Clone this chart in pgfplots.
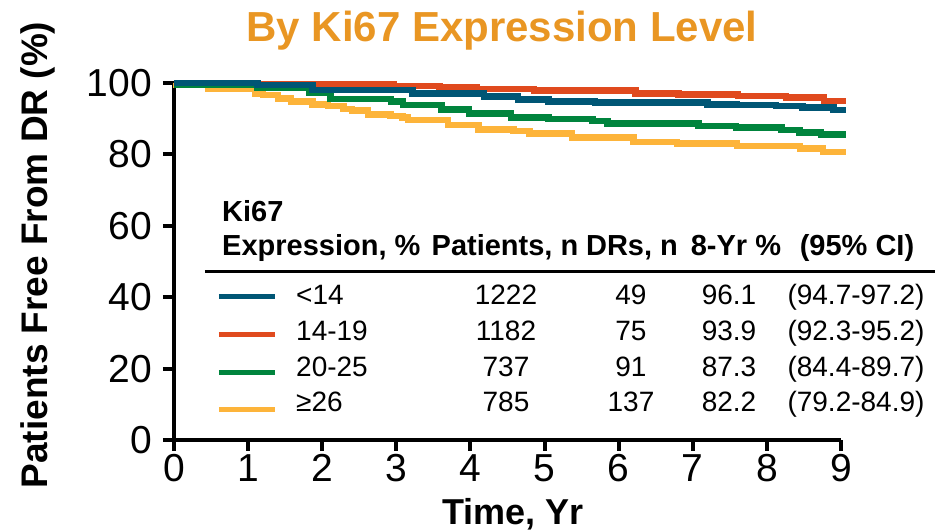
\documentclass[border=0pt]{standalone}
\usepackage{pgfplots}
\pgfplotsset{compat=1.18}
\usepackage{fontspec}
\setmainfont{Liberation Sans}
\definecolor{cblue}{RGB}{0,86,117}
\definecolor{cred}{RGB}{224,74,30}
\definecolor{cgreen}{RGB}{0,132,61}
\definecolor{cyellow}{RGB}{253,180,58}
\definecolor{ctitle}{RGB}{233,150,35}
\begin{document}
\begin{tikzpicture}
\useasboundingbox (-174pt,-92pt) rectangle (761pt,440pt);
\begin{axis}[
  at={(0pt,0pt)}, anchor=south west,
  width=667pt, height=357pt, scale only axis,
  xmin=0, xmax=9, ymin=0, ymax=100,
  axis x line*=bottom, axis y line*=left,
  axis line style={line width=4.5pt, black},
  tick align=outside, major tick length=11pt,
  tick style={line width=4pt, black},
  xtick={0,1,...,9}, ytick={0,20,...,100},
  /pgf/number format/assume math mode=true,
  ticklabel style={font=\fontsize{39}{39}\selectfont, inner sep=0pt},
  xticklabel style={anchor=north, yshift=-3pt},
  yticklabel style={anchor=east, xshift=-11pt},
  clip=false,
  const plot mark left,
  every axis plot/.append style={line width=6.5pt, line join=miter, mark=none},
]
\addplot[cyellow] coordinates {
(0,100) (0.03,99.6) (0.46,98.3) (1.10,97.0) (1.20,96.6) (1.40,95.6) (1.58,94.8)
(1.87,94.0) (2.08,93.6) (2.29,92.7) (2.40,92.3) (2.62,91.2) (2.92,90.7) (3.08,90.3)
(3.16,89.6) (3.70,88.3) (4.11,87.0) (4.58,86.6) (4.80,85.9) (5.37,84.8) (6.20,83.5)
(6.79,83.0) (7.60,82.3) (8.45,81.6) (8.76,80.7) (9.07,80.7)};
\addplot[cgreen] coordinates {
(0,100) (0.05,99.6) (1.12,98.6) (1.83,97.3) (2.11,95.5) (2.93,94.8) (3.09,93.8)
(3.61,92.6) (3.98,91.5) (4.55,90.4) (5.05,89.9) (5.65,89.3) (5.85,88.6) (7.08,88.0)
(7.58,87.5) (8.20,86.8) (8.44,86.1) (8.73,85.6) (9.07,85.6)};
\addplot[cred] coordinates {
(0,100) (1.12,99.7) (2.97,99.2) (3.58,98.7) (4.08,98.3) (4.86,97.9) (6.23,97.1)
(6.81,96.8) (7.61,96.3) (8.26,96.0) (8.77,95.0) (9.07,95.0)};
\addplot[cblue] coordinates {
(0,100) (1.13,99.4) (1.87,98.0) (3.22,97.0) (4.18,96.2) (4.64,95.4) (5.05,94.8)
(5.68,94.5) (7.20,94.0) (7.60,93.8) (8.12,93.6) (8.48,93.2) (8.90,92.5) (9.07,92.5)};
\end{axis}
% title and axis labels
\node[anchor=base, font=\fontsize{42}{42}\selectfont\bfseries, text=ctitle, inner sep=0pt] at (328pt,398pt) {By Ki67 Expression Level};
\node[anchor=base, rotate=90, font=\fontsize{37}{37}\selectfont\bfseries, inner sep=0pt] at (-126pt,185pt) {Patients Free From DR (\%)};
\node[anchor=base, font=\fontsize{36}{36}\selectfont\bfseries, inner sep=0pt] at (339pt,-85pt) {Time, Yr};
% table header
\begin{scope}[every node/.style={inner sep=0pt, font=\fontsize{29}{29}\selectfont\bfseries}]
\node[anchor=base west] at (48pt,218pt) {Ki67};
\node[anchor=base west] at (48pt,184pt) {Expression, \%};
\node[anchor=base] at (331pt,184pt) {Patients, n};
\node[anchor=base] at (458pt,184pt) {DRs, n};
\node[anchor=base] at (562pt,184pt) {8-Yr \%};
\node[anchor=base] at (683pt,184pt) {(95\% CI)};
\end{scope}
\draw[line width=3pt] (31pt,168.5pt) -- (761pt,168.5pt);
% legend swatches
\draw[cblue, line width=5pt] (45pt,143pt) -- (101pt,143pt);
\draw[cred, line width=5pt] (45pt,105pt) -- (101pt,105pt);
\draw[cgreen, line width=5pt] (45pt,67pt) -- (101pt,67pt);
\draw[cyellow, line width=5pt] (45pt,30pt) -- (101pt,30pt);
% table rows
\begin{scope}[every node/.style={inner sep=0pt, font=\fontsize{28}{28}\selectfont}]
\node[anchor=base west] at (122pt,135pt) {<14};
\node[anchor=base] at (332pt,135pt) {1222};
\node[anchor=base] at (457pt,135pt) {49};
\node[anchor=base] at (555pt,135pt) {96.1};
\node[anchor=base] at (682pt,135pt) {(94.7-97.2)};
\node[anchor=base west] at (122pt,99pt) {14-19};
\node[anchor=base] at (332pt,99pt) {1182};
\node[anchor=base] at (457pt,99pt) {75};
\node[anchor=base] at (555pt,99pt) {93.9};
\node[anchor=base] at (682pt,99pt) {(92.3-95.2)};
\node[anchor=base west] at (122pt,63pt) {20-25};
\node[anchor=base] at (332pt,63pt) {737};
\node[anchor=base] at (457pt,63pt) {91};
\node[anchor=base] at (555pt,63pt) {87.3};
\node[anchor=base] at (682pt,63pt) {(84.4-89.7)};
\node[anchor=base west] at (122pt,28pt) {≥26};
\node[anchor=base] at (332pt,28pt) {785};
\node[anchor=base] at (457pt,28pt) {137};
\node[anchor=base] at (555pt,28pt) {82.2};
\node[anchor=base] at (682pt,28pt) {(79.2-84.9)};
\end{scope}
\end{tikzpicture}
\end{document}
